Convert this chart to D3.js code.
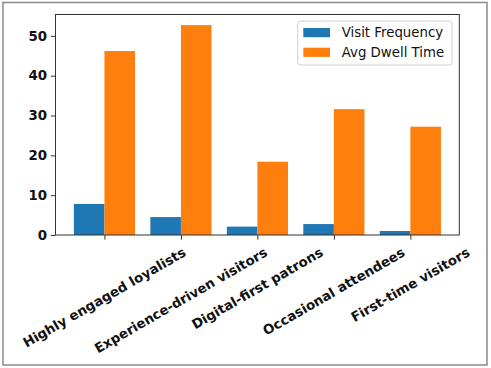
<!DOCTYPE html>
<html><head><meta charset="utf-8">
<script src="https://cdn.jsdelivr.net/npm/d3@7"></script>
<style>body{margin:0;background:#fff}svg{display:block}</style>
</head><body>
<script>
const categories = ["Highly engaged loyalists","Experience-driven visitors","Digital-first patrons","Occasional attendees","First-time visitors"];
const visitFrequency = [7.8, 4.5, 2.1, 2.75, 1.0];
const avgDwellTime = [46.2, 52.7, 18.4, 31.6, 27.2];
const seriesNames = ["Visit Frequency","Avg Dwell Time"];
const colors = ["#1f77b4","#ff7f0e"];
const yTicks = [0,10,20,30,40,50];

const W=491,H=368;
const svg=d3.select("body").append("svg").attr("width",W).attr("height",H);
svg.append("rect").attr("x",3).attr("y",2.5).attr("width",484).attr("height",362.5)
  .attr("fill","#fff").attr("stroke","#8a8a8a").attr("stroke-width",1.5);

const L=55.5,R=459.3,T=14.5,B=235;
const x=d3.scaleLinear().domain([-0.64,4.64]).range([L,R]);
const y=d3.scaleLinear().domain([0,55.37]).range([B,T]);
const bw=0.4;
const font="DejaVu Sans, sans-serif";
const fs=13.33;

const series=[visitFrequency,avgDwellTime];
series.forEach((vals,si)=>{
  svg.append("g").selectAll("rect").data(vals).join("rect")
    .attr("x",(d,i)=>x(i+(si===0?-bw:0)))
    .attr("width",x(bw)-x(0))
    .attr("y",d=>y(d)).attr("height",d=>y(0)-y(d))
    .attr("fill",colors[si]);
});

// frame
svg.append("rect").attr("x",L).attr("y",T).attr("width",R-L).attr("height",B-T)
  .attr("fill","none").attr("stroke","#333").attr("stroke-width",1);

// y axis
const ya=svg.append("g").attr("transform",`translate(${L},0)`)
  .call(d3.axisLeft(y).tickValues(yTicks).tickSize(4.67).tickPadding(3.8).tickFormat(d3.format("d")));
ya.select(".domain").remove();
ya.selectAll("line").attr("stroke","#333");
ya.selectAll("text").attr("font-family",font).attr("font-weight","bold").attr("font-size",fs+"px").attr("fill","#111");

// x axis
const xa=svg.append("g").attr("transform",`translate(0,${B})`)
  .call(d3.axisBottom(x).tickValues(d3.range(categories.length)).tickSize(4.67).tickFormat(""));
xa.select(".domain").remove();
xa.selectAll("line").attr("stroke","#333");

const h=fs*1.17, topY=244.5;
categories.forEach((c,i)=>{
  const t=svg.append("text").text(c).attr("font-family",font).attr("font-weight","bold")
    .attr("font-size",fs+"px").attr("fill","#111").attr("text-anchor","middle")
    .attr("dominant-baseline","central");
  const w=t.node().getComputedTextLength();
  const bh=w*0.5+h*0.866;
  const cx=x(i), cy=topY+bh/2;
  t.attr("transform",`translate(${cx},${cy}) rotate(-30)`);
});

// legend
const lg=svg.append("g");
lg.append("rect").attr("x",297.7).attr("y",21).attr("width",154.3).attr("height",44).attr("rx",3)
  .attr("fill","#fff").attr("stroke","#d0d0d0").attr("stroke-width",1);
seriesNames.forEach((n,i)=>{
  const yy=28+i*19.7;
  lg.append("rect").attr("x",303.3).attr("y",yy).attr("width",26.7).attr("height",9.2).attr("fill",colors[i]);
  lg.append("text").attr("x",341.7).attr("y",yy+4.6).attr("dominant-baseline","central")
    .attr("font-family",font).attr("font-size",fs+"px").attr("fill","#111").text(n);
});
</script>
</body></html>
